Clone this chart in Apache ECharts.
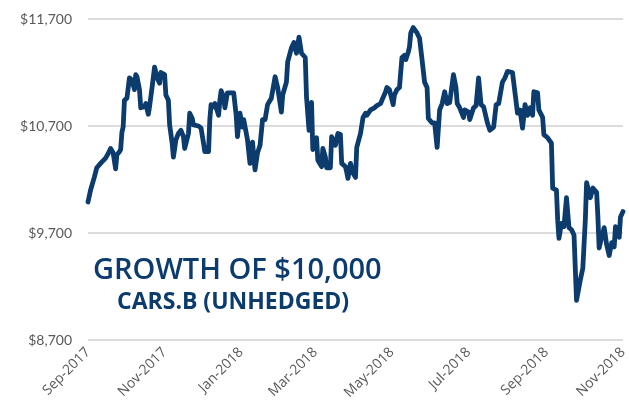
<!DOCTYPE html>
<html>
<head>
<meta charset="utf-8">
<script src="https://cdn.jsdelivr.net/npm/echarts@6/dist/echarts.min.js"></script>
<style>
  html, body { margin: 0; padding: 0; background: #fff; }
  #chart { width: 629px; height: 406px; }
</style>
</head>
<body>
<div id="chart"></div>
<script>
// roughly one point per visible turn of the line
const dates = [
  '2017-09-01', '2017-09-03', '2017-09-06', '2017-09-08', '2017-09-11', '2017-09-12', '2017-09-15', '2017-09-17',
  '2017-09-19', '2017-09-21', '2017-09-23', '2017-09-24', '2017-09-26', '2017-09-27', '2017-09-28', '2017-09-29',
  '2017-09-30', '2017-10-02', '2017-10-04', '2017-10-06', '2017-10-08', '2017-10-09', '2017-10-10', '2017-10-12',
  '2017-10-13', '2017-10-16', '2017-10-17', '2017-10-19', '2017-10-20', '2017-10-22', '2017-10-24', '2017-10-26',
  '2017-10-28', '2017-10-29', '2017-11-01', '2017-11-02', '2017-11-04', '2017-11-05', '2017-11-07', '2017-11-08',
  '2017-11-10', '2017-11-12', '2017-11-14', '2017-11-16', '2017-11-17', '2017-11-20', '2017-11-21', '2017-11-23',
  '2017-11-24', '2017-11-28', '2017-11-30', '2017-12-02', '2017-12-03', '2017-12-06', '2017-12-07', '2017-12-08',
  '2017-12-10', '2017-12-11', '2017-12-14', '2017-12-15', '2017-12-16', '2017-12-18', '2017-12-19', '2017-12-21',
  '2017-12-24', '2017-12-26', '2017-12-28', '2017-12-29', '2017-12-31', '2018-01-02', '2018-01-03', '2018-01-06',
  '2018-01-08', '2018-01-10', '2018-01-11', '2018-01-12', '2018-01-14', '2018-01-16', '2018-01-18', '2018-01-20',
  '2018-01-22', '2018-01-25', '2018-01-28', '2018-01-30', '2018-02-02', '2018-02-03', '2018-02-06', '2018-02-07',
  '2018-02-10', '2018-02-12', '2018-02-14', '2018-02-16', '2018-02-18', '2018-02-21', '2018-02-22', '2018-02-24',
  '2018-02-26', '2018-02-27', '2018-03-02', '2018-03-03', '2018-03-06', '2018-03-07', '2018-03-09', '2018-03-10',
  '2018-03-13', '2018-03-14', '2018-03-17', '2018-03-19', '2018-03-21', '2018-03-22', '2018-03-25', '2018-03-26',
  '2018-03-27', '2018-03-29', '2018-03-31', '2018-04-02', '2018-04-03', '2018-04-06', '2018-04-08', '2018-04-10',
  '2018-04-11', '2018-04-14', '2018-04-17', '2018-04-19', '2018-04-22', '2018-04-23', '2018-04-26', '2018-04-27',
  '2018-04-29', '2018-05-02', '2018-05-03', '2018-05-05', '2018-05-07', '2018-05-09', '2018-05-11', '2018-05-12',
  '2018-05-14', '2018-05-15', '2018-05-16', '2018-05-18', '2018-05-21', '2018-05-23', '2018-05-25', '2018-05-27',
  '2018-05-29', '2018-05-30', '2018-06-02', '2018-06-04', '2018-06-06', '2018-06-08', '2018-06-10', '2018-06-12',
  '2018-06-14', '2018-06-16', '2018-06-19', '2018-06-20', '2018-06-21', '2018-06-22', '2018-06-24', '2018-06-27',
  '2018-06-28', '2018-07-01', '2018-07-02', '2018-07-05', '2018-07-07', '2018-07-09', '2018-07-11', '2018-07-13',
  '2018-07-16', '2018-07-18', '2018-07-21', '2018-07-23', '2018-07-25', '2018-07-28', '2018-07-30', '2018-08-01',
  '2018-08-05', '2018-08-07', '2018-08-09', '2018-08-11', '2018-08-13', '2018-08-15', '2018-08-17', '2018-08-19',
  '2018-08-21', '2018-08-22', '2018-08-25', '2018-08-26', '2018-08-29', '2018-08-30', '2018-09-02', '2018-09-05',
  '2018-09-06', '2018-09-09', '2018-09-10', '2018-09-11', '2018-09-13', '2018-09-15', '2018-09-17', '2018-09-19',
  '2018-09-21', '2018-09-23', '2018-09-25', '2018-09-28', '2018-09-30', '2018-10-02', '2018-10-03', '2018-10-04',
  '2018-10-06', '2018-10-08', '2018-10-11', '2018-10-12', '2018-10-13', '2018-10-15', '2018-10-17', '2018-10-19',
  '2018-10-21', '2018-10-23', '2018-10-25', '2018-10-26', '2018-10-29', '2018-10-30', '2018-11-01'
];

const growth = [
  9990, 10100, 10220, 10310, 10350, 10340, 10400, 10440,
  10490, 10450, 10300, 10430, 10460, 10480, 10640, 10690,
  10940, 10960, 11150, 11130, 11040, 11180, 11160, 11040,
  10870, 10880, 10910, 10810, 10880, 11060, 11250, 11150,
  11100, 11200, 11180, 10990, 10940, 10710, 10540, 10410,
  10570, 10630, 10660, 10600, 10490, 10630, 10820, 10770,
  10710, 10700, 10680, 10540, 10460, 10460, 10760, 10900,
  10880, 10910, 10800, 10940, 11030, 10970, 10870, 11010,
  11010, 11010, 10800, 10600, 10820, 10690, 10760, 10570,
  10350, 10550, 10410, 10290, 10450, 10520, 10760, 10760,
  10900, 10960, 11160, 11060, 10830, 10990, 11110, 11300,
  11430, 11480, 11380, 11530, 11380, 11340, 10970, 10660,
  10920, 10480, 10590, 10380, 10320, 10490, 10410, 10310,
  10310, 10600, 10520, 10630, 10620, 10350, 10320, 10270,
  10210, 10350, 10260, 10220, 10500, 10630, 10780, 10820,
  10800, 10850, 10870, 10890, 10910, 10940, 11020, 11060,
  11040, 10900, 10990, 11040, 11060, 11340, 11360, 11320,
  11390, 11440, 11570, 11620, 11570, 11520, 11320, 11110,
  11060, 10770, 10730, 10730, 10500, 10850, 10910, 11020,
  10910, 10920, 11180, 11180, 11060, 10910, 10870, 10780,
  10850, 10830, 10760, 10870, 10890, 11150, 10900, 10880,
  10730, 10660, 10690, 10900, 10910, 11110, 11150, 11210,
  11200, 11010, 10820, 10850, 10680, 10900, 10800, 10870,
  10800, 11020, 11010, 10850, 10780, 10620, 10590, 10540,
  10120, 10100, 9820, 9650, 9790, 9760, 10030, 9750,
  9730, 9680, 9070, 9260, 9370, 9820, 10170, 10180,
  10030, 10120, 10080, 9850, 9560, 9660, 9750, 9590,
  9490, 9610, 9570, 9760, 9660, 9850, 9900
];

const tickDates = [
  '2017-09-01', '2017-11-01', '2018-01-01', '2018-03-01',
  '2018-05-01', '2018-07-01', '2018-09-01', '2018-11-01'
];

const MONTHS = ['Jan', 'Feb', 'Mar', 'Apr', 'May', 'Jun', 'Jul', 'Aug', 'Sep', 'Oct', 'Nov', 'Dec'];
const NAVY = '#0c3b6e';
const GREY_TEXT = '#595959';

function toTime(s) {
  const [y, m, d] = s.split('-').map(Number);
  return new Date(y, m - 1, d).getTime();
}

const chart = echarts.init(document.getElementById('chart'), null, { renderer: 'canvas' });

chart.setOption({
  animation: false,
  backgroundColor: '#ffffff',
  grid: {
    left: 88,
    right: 6,
    top: 19,
    bottom: 66,
    containLabel: false,
    outerBoundsMode: 'none'
  },
  title: [
    {
      text: 'GROWTH OF $10,000',
      left: 88,
      top: 251,
      textStyle: {
        fontFamily: "'Open Sans', sans-serif",
        fontSize: 29,
        fontWeight: 600,
        color: NAVY
      }
    },
    {
      text: 'CARS.B (UNHEDGED)',
      left: 112,
      top: 286,
      textStyle: {
        fontFamily: "'Open Sans', sans-serif",
        fontSize: 23,
        fontWeight: 700,
        color: NAVY
      }
    }
  ],
  // dates on a plain value axis, so the labels can sit on exact month starts
  xAxis: {
    type: 'value',
    min: toTime(tickDates[0]),
    max: toTime(tickDates[tickDates.length - 1]),
    axisLine: { show: false },
    axisTick: { show: false },
    splitLine: { show: false },
    axisLabel: {
      customValues: tickDates.map(toTime),
      rotate: 45,
      margin: 10,
      hideOverlap: false,
      fontFamily: "'Open Sans', sans-serif",
      fontSize: 14,
      color: GREY_TEXT,
      formatter: v => {
        const d = new Date(v);
        return MONTHS[d.getMonth()] + '-' + d.getFullYear();
      }
    }
  },
  yAxis: {
    type: 'value',
    min: 8700,
    max: 11700,
    interval: 1000,
    axisLine: { show: false },
    axisTick: { show: false },
    splitLine: { lineStyle: { color: '#dcdcdc', width: 2 } },
    axisLabel: {
      margin: 16,
      fontFamily: 'Lato, sans-serif',
      fontSize: 14,
      color: GREY_TEXT,
      formatter: v => '$' + v.toLocaleString('en-US')
    }
  },
  series: [
    {
      type: 'line',
      data: dates.map((d, i) => [toTime(d), growth[i]]),
      showSymbol: false,
      lineStyle: { color: NAVY, width: 4.8, join: 'round', cap: 'round' }
    }
  ]
});
</script>
</body>
</html>
